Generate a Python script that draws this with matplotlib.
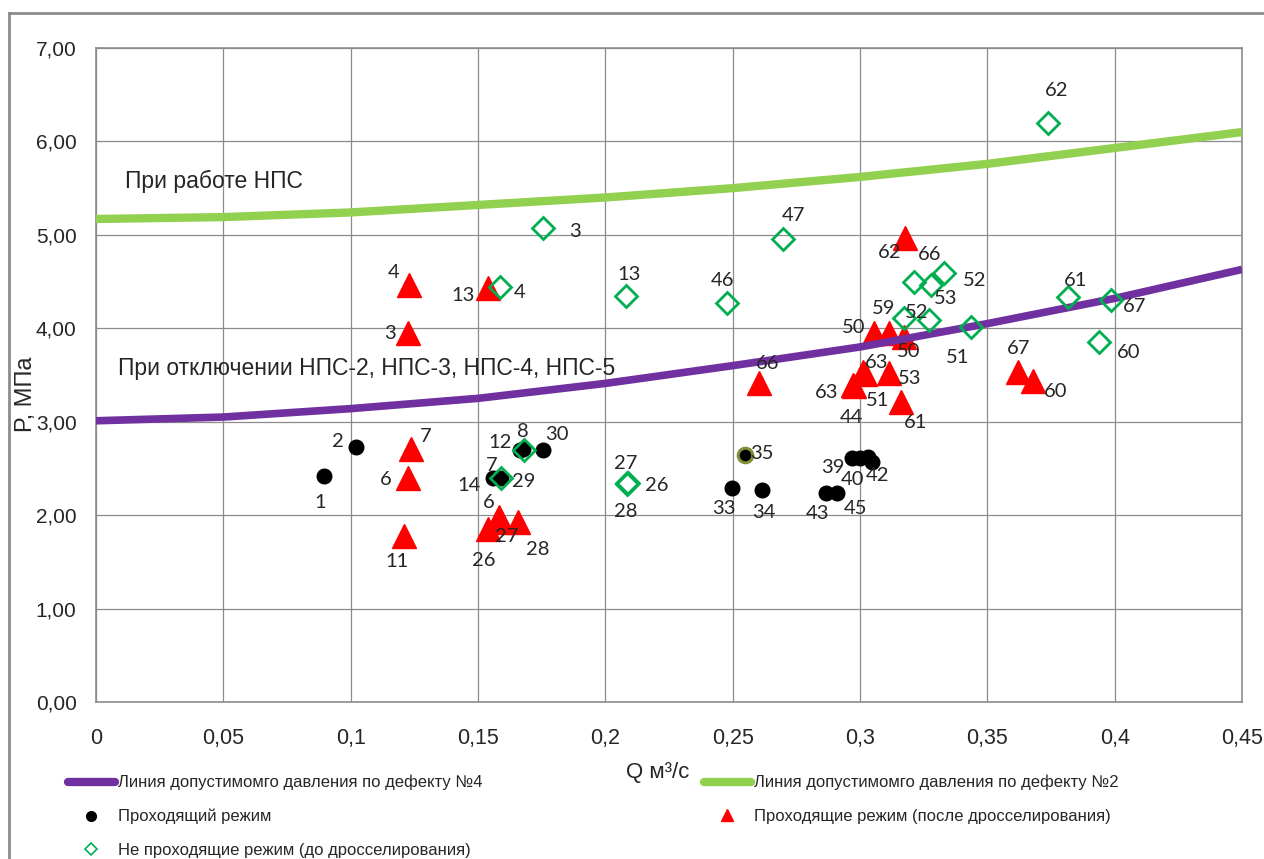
import matplotlib
matplotlib.use("Agg")
import matplotlib.pyplot as plt
from matplotlib.lines import Line2D

# ---- data -------------------------------------------------------------
# admissible-pressure curves, P (MPa) versus Q (m3/s)
curve_q = [0.00, 0.05, 0.10, 0.15, 0.20, 0.25, 0.30, 0.35, 0.40, 0.45]
curve_defect2 = [5.17, 5.19, 5.24, 5.32, 5.40, 5.50, 5.62, 5.76, 5.93, 6.10]
curve_defect4 = [3.01, 3.05, 3.14, 3.25, 3.41, 3.60, 3.80, 4.05, 4.32, 4.63]

# passing modes
pass_q = [0.0895, 0.1021, 0.1559, 0.1590, 0.1665, 0.1677, 0.1755, 0.2548,
          0.2497, 0.2615, 0.2866, 0.2910, 0.2968, 0.3000, 0.3031, 0.3047]
pass_p = [2.42, 2.73, 2.40, 2.40, 2.70, 2.71, 2.70, 2.64,
          2.29, 2.27, 2.24, 2.24, 2.61, 2.61, 2.62, 2.57]
pass_lbl = ["1", "2", "14", "7", "12", "", "30", "35",
            "33", "34", "43", "45", "39", "40", "42", ""]

# passing modes after throttling
thr_q = [0.1229, 0.1225, 0.1539, 0.1237, 0.1225, 0.1209, 0.1539, 0.1582,
         0.1590, 0.1657, 0.2603, 0.3177, 0.3055, 0.3114, 0.3173, 0.3012,
         0.3020, 0.2972, 0.2976, 0.3114, 0.3161, 0.3620, 0.3679]
thr_p = [4.46, 3.95, 4.43, 2.71, 2.40, 1.78, 1.85, 1.98,
         1.93, 1.93, 3.41, 4.97, 3.95, 3.95, 3.91, 3.53,
         3.51, 3.39, 3.38, 3.52, 3.21, 3.53, 3.44]
thr_lbl = ["4", "3", "13", "7", "6", "11", "26", "6",
           "27", "28", "66", "62", "50", "", "50", "63",
           "51", "63", "44", "53", "61", "67", "60"]

# non-passing modes before throttling
fail_q = [0.1755, 0.1586, 0.2081, 0.2478, 0.2698, 0.2085, 0.2089, 0.2085,
          0.1590, 0.1681, 0.3738, 0.3817, 0.3986, 0.3938, 0.3212, 0.3279,
          0.3330, 0.3173, 0.3271, 0.3436]
fail_p = [5.07, 4.44, 4.35, 4.27, 4.96, 2.34, 2.34, 2.33,
          2.40, 2.70, 6.20, 4.33, 4.30, 3.85, 4.50, 4.46,
          4.59, 4.11, 4.09, 4.01]
fail_lbl = ["3", "4", "13", "46", "47", "27", "26", "28",
            "29", "8", "62", "61", "67", "60", "66", "53",
            "52", "59", "52", "51"]

x_ticks = [0, 0.05, 0.1, 0.15, 0.2, 0.25, 0.3, 0.35, 0.4, 0.45]
x_tick_labels = ["0", "0,05", "0,1", "0,15", "0,2", "0,25", "0,3", "0,35", "0,4", "0,45"]
y_ticks = [0, 1, 2, 3, 4, 5, 6, 7]
y_tick_labels = ["0,00", "1,00", "2,00", "3,00", "4,00", "5,00", "6,00", "7,00"]

# label offsets in pixels (dx, dy)
pass_off = [(-4, -27), (-18, 5), (-24, -8), (-9, 12), (-20, 7), (0, 0), (14, 15), (17, 2),
            (-8, -20), (2, -23), (-8, -21), (18, -16), (-19, -9), (-7, -21), (10, -18), (0, 0)]
thr_off = [(-15, 13), (-18, -1), (-25, -7), (15, 12), (-22, -2), (-7, -26), (-4, -31), (-10, 15),
           (6, -15), (20, -28), (9, 20), (-15, -15), (-20, 5), (0, 0), (5, -15), (14, 10),
           (12, -26), (-26, -7), (-2, -31), (21, -5), (15, -20), (1, 24), (23, -11)]
fail_off = [(32, -3), (20, -5), (3, 21), (-5, 23), (10, 23), (-1, 20), (29, -2), (-1, -27),
            (23, -4), (-1, 18), (9, 32), (7, 17), (23, -6), (30, -10), (16, 27), (15, -13),
            (31, -7), (-20, 10), (-12, 7), (-13, -30)]

# ---- style ------------------------------------------------------------
NARROW = ["Liberation Sans Narrow", "Liberation Sans", "DejaVu Sans"]
LABEL_FONT = ["Lato", "DejaVu Sans"]
GRID = "#8c8c8c"
TXT = "#262626"
PURPLE = "#7030A0"
LGREEN = "#92D050"
GREEN = "#00B050"
RED = "#FF0000"

fig = plt.figure(figsize=(12.64, 8.59), dpi=100)
ax = fig.add_axes([96 / 1264, 1 - 702 / 859, 1146 / 1264, 654 / 859])

ax.set_xlim(0, 0.45)
ax.set_ylim(0, 7)
ax.set_xticks(x_ticks)
ax.set_xticklabels(x_tick_labels, fontfamily=NARROW, fontsize=15.5, color=TXT)
ax.set_yticks(y_ticks)
ax.set_yticklabels(y_tick_labels, fontfamily=NARROW, fontsize=15, color=TXT)
ax.tick_params(axis="both", length=0)
ax.tick_params(axis="x", pad=19)
ax.tick_params(axis="y", pad=14)
ax.grid(True, color=GRID, lw=0.9)
ax.set_axisbelow(True)
for s in ax.spines.values():
    s.set_color(GRID)
    s.set_linewidth(1.2)

# passing modes
ax.plot(pass_q, pass_p, ls="none", marker="o", ms=10.5, mfc="black", mec="black", zorder=3)
i35 = pass_lbl.index("35")
ax.plot([pass_q[i35]], [pass_p[i35]], ls="none", marker="o", ms=10.5, mfc="black",
        mec="#7f8f3a", mew=2.2, zorder=3)

# passing after throttling
ax.plot(thr_q, thr_p, ls="none", marker="^", ms=17, mfc=RED, mec=RED, zorder=4)

# admissible-pressure lines
ax.plot(curve_q, curve_defect2, color=LGREEN, lw=6, solid_capstyle="butt", zorder=5)
ax.plot(curve_q, curve_defect4, color=PURPLE, lw=5.5, solid_capstyle="butt", zorder=5)

# non-passing before throttling
ax.plot(fail_q, fail_p, ls="none", marker="D", ms=11, mfc="none", mec=GREEN, mew=2, zorder=6)


def put_labels(qs, ps, names, offs):
    for q, p, t, (dx, dy) in zip(qs, ps, names, offs):
        if t:
            ax.annotate(t, (q, p), xytext=(dx, dy), textcoords="offset pixels",
                        ha="center", va="center", fontsize=14.5, family=LABEL_FONT,
                        color=TXT, zorder=7)


put_labels(pass_q, pass_p, pass_lbl, pass_off)
put_labels(thr_q, thr_p, thr_lbl, thr_off)
put_labels(fail_q, fail_p, fail_lbl, fail_off)

ax.text(0.0115, 5.57, "При работе НПС", fontsize=16.5, family=NARROW, color=TXT,
        va="center", ha="left", zorder=7)
ax.text(0.0088, 3.57, "При отключении НПС-2, НПС-3, НПС-4, НПС-5", fontsize=16.5,
        family=NARROW, color=TXT, va="center", ha="left", zorder=7)

ax.set_xlabel("Q м³/с", fontsize=16, family=NARROW, color=TXT)
ax.xaxis.set_label_coords(0.490, -0.108)
ax.xaxis.label.set_va("center")
ax.set_ylabel("P, МПа", fontsize=17, family=NARROW, color=TXT)
ax.yaxis.set_label_coords(-0.061, 0.47)
ax.yaxis.label.set_va("center")

# legend: two columns built as two legends
h_d4 = Line2D([], [], color=PURPLE, lw=6, solid_capstyle="round")
h_pass = Line2D([], [], ls="none", marker="o", ms=7, mfc="black", mec="black")
h_fail = Line2D([], [], ls="none", marker="D", ms=6, mfc="none", mec=GREEN, mew=1.2)
h_d2 = Line2D([], [], color=LGREEN, lw=6, solid_capstyle="round")
h_thr = Line2D([], [], ls="none", marker="^", ms=8, mfc=RED, mec=RED)

leg_kw = dict(frameon=False, loc="upper left", borderpad=0, borderaxespad=0,
              handlelength=2.8, handletextpad=0.2, labelspacing=1.1,
              prop={"family": NARROW, "size": 12})
leg1 = fig.legend([h_d4, h_pass, h_fail],
                  ["Линия допустимомго давления по дефекту №4",
                   "Проходящий режим",
                   "Не проходящие режим (до дросселирования)"],
                  bbox_to_anchor=(68 / 1264, 1 - 775 / 859), **leg_kw)
for t in leg1.get_texts():
    t.set_color(TXT)
leg2 = fig.legend([h_d2, h_thr],
                  ["Линия допустимомго давления по дефекту №2",
                   "Проходящие режим (после дросселирования)"],
                  bbox_to_anchor=(704 / 1264, 1 - 775 / 859), **leg_kw)
for t in leg2.get_texts():
    t.set_color(TXT)

# outer chart frame
fx = 9 / 1264
fy = 1 - 13 / 859
fig.add_artist(Line2D([fx, fx], [0, fy], color=GRID, lw=2, transform=fig.transFigure))
fig.add_artist(Line2D([fx, 1], [fy, fy], color=GRID, lw=2, transform=fig.transFigure))

fig.savefig("out.png", dpi=100)
